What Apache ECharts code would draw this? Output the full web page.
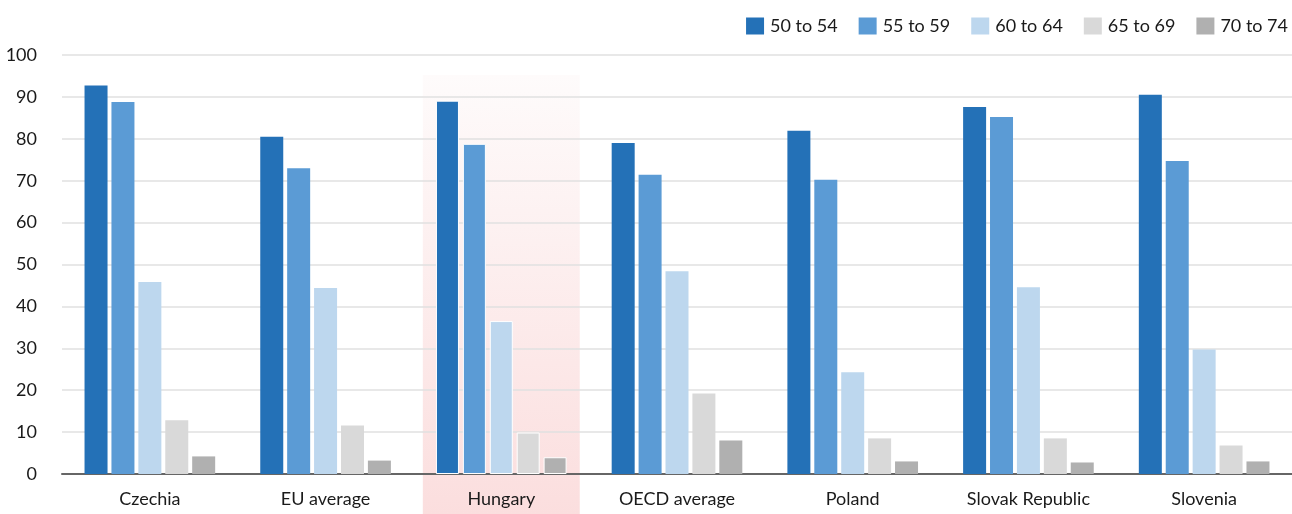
<!DOCTYPE html>
<html>
<head>
<meta charset="utf-8">
<script src="https://cdn.jsdelivr.net/npm/echarts@6/dist/echarts.min.js"></script>
<style>
  html, body { margin: 0; padding: 0; background: #ffffff; }
  #chart { width: 1292px; height: 514px; }
</style>
</head>
<body>
<div id="chart"></div>
<script>
// Employment rate by age group (%)
const categories = ['Czechia', 'EU average', 'Hungary', 'OECD average', 'Poland', 'Slovak Republic', 'Slovenia'];
const ageGroups = ['50 to 54', '55 to 59', '60 to 64', '65 to 69', '70 to 74'];
const age50to54 = [92.7, 80.5, 89.1, 79.0, 81.9, 87.6, 90.5];
const age55to59 = [88.8, 73.0, 78.8, 71.4, 70.2, 85.2, 74.7];
const age60to64 = [45.8, 44.4, 36.5, 48.4, 24.3, 44.6, 29.7];
const age65to69 = [12.8, 11.6, 9.9, 19.2, 8.5, 8.5, 6.8];
const age70to74 = [4.2, 3.2, 4.0, 8.0, 3.0, 2.75, 3.0];
const yTicks = [0, 10, 20, 30, 40, 50, 60, 70, 80, 90, 100];
const highlighted = 'Hungary';

const palette = ['#2471b7', '#5b9bd5', '#bdd7ee', '#d9d9d9', '#b0b0b0'];
const seriesValues = [age50to54, age55to59, age60to64, age65to69, age70to74];
const FONT = 'Lato';
const TEXT = '#1a1a1a';

const chart = echarts.init(document.getElementById('chart'));

const series = ageGroups.map((name, i) => ({
  name: name,
  type: 'bar',
  barWidth: 23,
  barGap: '17%',
  itemStyle: { color: palette[i] },
  data: seriesValues[i].map((v, j) => categories[j] === highlighted
    ? { value: v, itemStyle: { borderColor: '#ffffff', borderWidth: 1 } }
    : v)
}));

chart.setOption({
  animation: false,
  textStyle: { fontFamily: FONT },
  grid: { left: 62, right: 0, top: 55, bottom: 40, containLabel: false },
  legend: {
    top: 17,
    right: 4,
    padding: 0,
    icon: 'rect',
    itemWidth: 18,
    itemHeight: 17,
    itemGap: 21,
    textStyle: { fontFamily: FONT, fontSize: 18, color: TEXT, padding: [0, 0, 0, 1] },
    data: ageGroups
  },
  xAxis: {
    type: 'category',
    data: categories,
    axisLine: { lineStyle: { color: '#666666', width: 2 } },
    axisTick: { show: false },
    axisLabel: { fontFamily: FONT, fontSize: 18, color: TEXT, margin: 16 },
    splitLine: { show: false }
  },
  yAxis: {
    type: 'value',
    min: yTicks[0],
    max: yTicks[yTicks.length - 1],
    interval: yTicks[1] - yTicks[0],
    axisLine: { show: false },
    axisTick: { show: false },
    axisLabel: { fontFamily: FONT, fontSize: 18, color: TEXT, margin: 25 },
    splitLine: { lineStyle: { color: '#e0e0e0', width: 1.5 } }
  },
  series: series
});

// Shaded band behind the highlighted country, placed from the category axis
function drawHighlight() {
  const idx = categories.indexOf(highlighted);
  const cx = chart.convertToPixel({ xAxisIndex: 0 }, categories[idx]);
  const x0 = chart.convertToPixel({ xAxisIndex: 0 }, categories[0]);
  const x1 = chart.convertToPixel({ xAxisIndex: 0 }, categories[1]);
  const band = (x1 - x0) * 0.893;
  const topY = chart.convertToPixel({ yAxisIndex: 0 }, yTicks[yTicks.length - 1]) + 20;
  const h = chart.getHeight() - topY;
  chart.setOption({
    graphic: {
      elements: [{
        type: 'rect',
        z: -10,
        silent: true,
        shape: { x: cx - band / 2, y: topY, width: band, height: h },
        style: {
          fill: new echarts.graphic.LinearGradient(0, 0, 0, 1, [
            { offset: 0, color: '#fefbfb' },
            { offset: 1, color: '#fbdede' }
          ])
        }
      }]
    }
  });
}
drawHighlight();
</script>
</body>
</html>
